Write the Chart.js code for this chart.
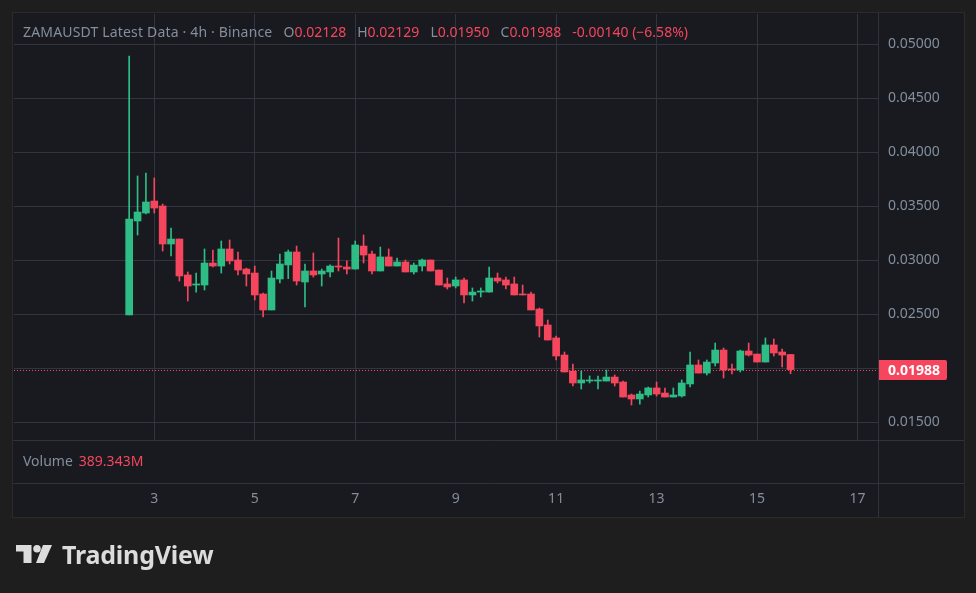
<!DOCTYPE html>
<html>
<head>
<meta charset="utf-8">
<title>ZAMAUSDT 4h</title>
<script src="https://cdn.jsdelivr.net/npm/chart.js@4.4.1/dist/chart.umd.min.js"></script>
<style>
  html, body { margin: 0; padding: 0; width: 976px; height: 593px; overflow: hidden; background: #1e1e1e; font-family: "Noto Sans", sans-serif; }
  .panel { position: absolute; left: 12px; top: 12px; width: 951px; height: 504px; background: #181a20; border: 1px solid #2b2b2b; }
  .wrap { position: absolute; left: 0; top: 0; width: 976px; height: 593px; }
  .legend { position: absolute; left: 23px; top: 22px; font-size: 14px; color: #848e9c; display: flex; gap: 11px; white-space: nowrap; }
  .legend .title { letter-spacing: 0.17px; }
  .red { color: #f6465d; }
  .vol { position: absolute; left: 23px; top: 451px; font-size: 14px; color: #848e9c; white-space: nowrap; }
  .vol span { margin-left: 6px; }
  .logo { position: absolute; left: 16px; top: 537px; display: flex; align-items: center; gap: 10px; color: #dcdcdc; font-weight: 700; font-size: 25px; letter-spacing: -0.2px; }
</style>
</head>
<body>
<div class="panel"></div>
<div class="wrap"><canvas id="chart"></canvas></div>
<div class="legend" id="legend"></div>
<div class="vol">Volume<span class="red">389.343M</span></div>
<div class="logo">
  <svg width="36" height="18" viewBox="0 0 36 18">
    <path d="M0 0 H15.5 V18 H7.5 V6.5 H0 Z" fill="#dcdcdc"/>
    <circle cx="21" cy="3.8" r="3.8" fill="#dcdcdc"/>
    <path d="M27 0 H36 L28 18 H20 Z" fill="#dcdcdc"/>
  </svg>
  <span>TradingView</span>
</div>
<script>
// ZAMAUSDT 4h candles, first one opens day 2 at 12:00
const startDay = 2.5;
const candleHours = 4;

const opens = [
  0.02494, 0.03364, 0.03438, 0.03549, 0.03503, 0.03151, 0.03197, 0.02864, 0.02771, 0.02771,
  0.02975, 0.02947, 0.03105, 0.03003, 0.02919, 0.02882, 0.02688, 0.02540, 0.02827, 0.02957,
  0.03077, 0.02799, 0.02901, 0.02873, 0.02892, 0.02947, 0.02938, 0.02919, 0.03132, 0.03058,
  0.02901, 0.03031, 0.02947, 0.02984, 0.02892, 0.02947, 0.03003, 0.02910, 0.02781, 0.02762,
  0.02818, 0.02679, 0.02706, 0.02706, 0.02836, 0.02818, 0.02781, 0.02688, 0.02688, 0.02549,
  0.02401, 0.02281, 0.02123, 0.01975, 0.01864, 0.01882, 0.01882, 0.01882, 0.01919, 0.01873,
  0.01753, 0.01716, 0.01753, 0.01818, 0.01771, 0.01734, 0.01744, 0.01855, 0.02031, 0.01956,
  0.02049, 0.02169, 0.01993, 0.01984, 0.02160, 0.02132, 0.02058, 0.02216, 0.02151, 0.02128
];
const highs = [
  0.04892, 0.03781, 0.03808, 0.03762, 0.03521, 0.03299, 0.03197, 0.02892, 0.02882, 0.03105,
  0.03095, 0.03179, 0.03188, 0.03077, 0.02928, 0.02947, 0.02697, 0.02901, 0.03058, 0.03095,
  0.03132, 0.02966, 0.03068, 0.02919, 0.02957, 0.03206, 0.02994, 0.03179, 0.03234, 0.03086,
  0.03123, 0.03105, 0.03021, 0.03003, 0.02975, 0.03012, 0.03003, 0.02910, 0.02836, 0.02845,
  0.02836, 0.02744, 0.02744, 0.02938, 0.02882, 0.02845, 0.02845, 0.02771, 0.02706, 0.02558,
  0.02447, 0.02299, 0.02151, 0.02040, 0.01975, 0.01929, 0.01929, 0.01984, 0.01938, 0.01882,
  0.01762, 0.01790, 0.01827, 0.01873, 0.01818, 0.01818, 0.01892, 0.02151, 0.02077, 0.02077,
  0.02234, 0.02188, 0.02040, 0.02169, 0.02234, 0.02132, 0.02281, 0.02271, 0.02179, 0.02129
];
const lows = [
  0.02494, 0.03234, 0.03429, 0.03438, 0.03086, 0.03040, 0.02808, 0.02623, 0.02706, 0.02725,
  0.02938, 0.02882, 0.02966, 0.02864, 0.02762, 0.02632, 0.02475, 0.02540, 0.02790, 0.02830,
  0.02771, 0.02568, 0.02845, 0.02762, 0.02845, 0.02901, 0.02873, 0.02919, 0.02975, 0.02873,
  0.02901, 0.02947, 0.02947, 0.02892, 0.02873, 0.02901, 0.02901, 0.02771, 0.02734, 0.02744,
  0.02605, 0.02623, 0.02660, 0.02706, 0.02790, 0.02734, 0.02679, 0.02679, 0.02540, 0.02290,
  0.02262, 0.02077, 0.01966, 0.01836, 0.01808, 0.01864, 0.01808, 0.01882, 0.01836, 0.01734,
  0.01660, 0.01669, 0.01734, 0.01744, 0.01734, 0.01734, 0.01734, 0.01827, 0.01956, 0.01938,
  0.02021, 0.01910, 0.01947, 0.01966, 0.02114, 0.02058, 0.02058, 0.02114, 0.02012, 0.01950
];
const closes = [
  0.03382, 0.03447, 0.03540, 0.03484, 0.03151, 0.03197, 0.02855, 0.02762, 0.02781, 0.02975,
  0.02947, 0.03105, 0.02994, 0.02910, 0.02873, 0.02679, 0.02540, 0.02836, 0.02966, 0.03077,
  0.02808, 0.02901, 0.02864, 0.02901, 0.02947, 0.02938, 0.02919, 0.03142, 0.03049, 0.02901,
  0.03031, 0.02947, 0.02984, 0.02892, 0.02956, 0.03003, 0.02901, 0.02771, 0.02753, 0.02818,
  0.02679, 0.02706, 0.02716, 0.02836, 0.02808, 0.02771, 0.02679, 0.02679, 0.02540, 0.02392,
  0.02262, 0.02114, 0.01966, 0.01864, 0.01892, 0.01892, 0.01892, 0.01919, 0.01864, 0.01734,
  0.01716, 0.01762, 0.01818, 0.01762, 0.01734, 0.01753, 0.01864, 0.02031, 0.01956, 0.02058,
  0.02169, 0.01984, 0.01984, 0.02160, 0.02123, 0.02058, 0.02216, 0.02142, 0.02123, 0.01988
];

const priceTicks = [0.015, 0.02, 0.025, 0.03, 0.035, 0.04, 0.045, 0.05];
const dayTicks = [3, 5, 7, 9, 11, 13, 15, 17];

const GREEN = "#2ebd85";
const RED = "#f6465d";
const TEXT = "#848e9c";
const GRID = "#31353f";
const SEP = "#2f333d";

const times = opens.map((_, i) => startDay + (i * candleHours) / 24);
const last = closes.length - 1;

// legend line at the top (last candle)
const chg = closes[last] - opens[last];
const pct = (chg / opens[last]) * 100;
const fmt = (v) => v.toFixed(5);
document.getElementById("legend").innerHTML =
  '<span class="title">ZAMAUSDT Latest Data · 4h · Binance</span>' +
  '<span>O<span class="red">' + fmt(opens[last]) + '</span></span>' +
  '<span>H<span class="red">' + fmt(highs[last]) + '</span></span>' +
  '<span>L<span class="red">' + fmt(lows[last]) + '</span></span>' +
  '<span>C<span class="red">' + fmt(closes[last]) + '</span></span>' +
  '<span class="red">' + fmt(chg) + ' (' + (pct < 0 ? "\u2212" : "+") + Math.abs(pct).toFixed(2) + '%)</span>';

const candleColor = (c) => (closes[c.dataIndex] >= opens[c.dataIndex] ? GREEN : RED);

// price line, pane separators, last price tag
const panes = {
  id: "panes",
  beforeDatasetsDraw(chart) {
    const { ctx, chartArea: a, scales } = chart;
    const py = Math.round(scales.y.getPixelForValue(closes[last])) + 0.5;
    ctx.save();
    ctx.strokeStyle = RED;
    ctx.lineWidth = 1;
    ctx.setLineDash([1, 2]);
    ctx.beginPath();
    ctx.moveTo(a.left, py);
    ctx.lineTo(a.right, py);
    ctx.stroke();
    ctx.restore();
  },
  afterDraw(chart) {
    const { ctx, chartArea: a, scales } = chart;
    const x = scales.x, y = scales.y;
    ctx.save();
    ctx.strokeStyle = SEP;
    ctx.lineWidth = 1;
    ctx.beginPath();
    ctx.moveTo(a.left - 1, a.bottom + 0.5);
    ctx.lineTo(y.right, a.bottom + 0.5);
    ctx.moveTo(a.left - 1, a.bottom + 43.5);
    ctx.lineTo(y.right, a.bottom + 43.5);
    ctx.moveTo(a.right + 0.5, a.top - 1);
    ctx.lineTo(a.right + 0.5, x.bottom);
    ctx.stroke();

    const py = Math.round(y.getPixelForValue(closes[last]));
    ctx.fillStyle = RED;
    ctx.beginPath();
    ctx.roundRect(a.right + 1, py - 10, 68, 20, [0, 2, 2, 0]);
    ctx.fill();
    ctx.fillStyle = "#ffffff";
    ctx.font = "bold 14px 'Noto Sans'";
    ctx.textBaseline = "middle";
    ctx.fillText(fmt(closes[last]), a.right + 10, py + 1);
    ctx.restore();
  },
};

new Chart(document.getElementById("chart"), {
  type: "bar",
  data: {
    datasets: [
      {
        label: "wick",
        data: times.map((t, i) => ({ x: t, y: [lows[i], highs[i]] })),
        backgroundColor: candleColor,
        barThickness: 1,
        minBarLength: 1,
        grouped: false,
        order: 2,
      },
      {
        label: "body",
        data: times.map((t, i) => ({ x: t, y: [opens[i], closes[i]] })),
        backgroundColor: candleColor,
        barThickness: 7,
        minBarLength: 1,
        grouped: false,
        order: 1,
      },
    ],
  },
  options: {
    responsive: true,
    maintainAspectRatio: false,
    animation: false,
    events: [],
    layout: { padding: { left: 14, top: 14, right: 12, bottom: 76 } },
    plugins: { legend: { display: false }, tooltip: { enabled: false } },
    scales: {
      x: {
        type: "linear",
        min: 0.207,
        max: 17.408,
        offset: false,
        afterBuildTicks: (axis) => { axis.ticks = dayTicks.map((v) => ({ value: v })); },
        afterFit: (axis) => { axis.height = 77; axis.paddingLeft = 0; axis.paddingRight = 0; },
        grid: { color: GRID, drawTicks: false, offset: false },
        border: { display: false },
        ticks: { color: TEXT, font: { family: "Noto Sans", size: 14 }, padding: 51, maxRotation: 0, autoSkip: false },
      },
      y: {
        position: "right",
        min: 0.013361,
        max: 0.052806,
        afterBuildTicks: (axis) => { axis.ticks = priceTicks.map((v) => ({ value: v })); },
        afterFit: (axis) => { axis.width = 86; axis.paddingTop = 0; axis.paddingBottom = 0; },
        grid: { color: GRID, drawTicks: false },
        border: { display: false },
        ticks: { color: TEXT, font: { family: "Noto Sans", size: 14 }, padding: 10, callback: (v) => Number(v).toFixed(5) },
      },
    },
  },
  plugins: [panes],
});
</script>
</body>
</html>
